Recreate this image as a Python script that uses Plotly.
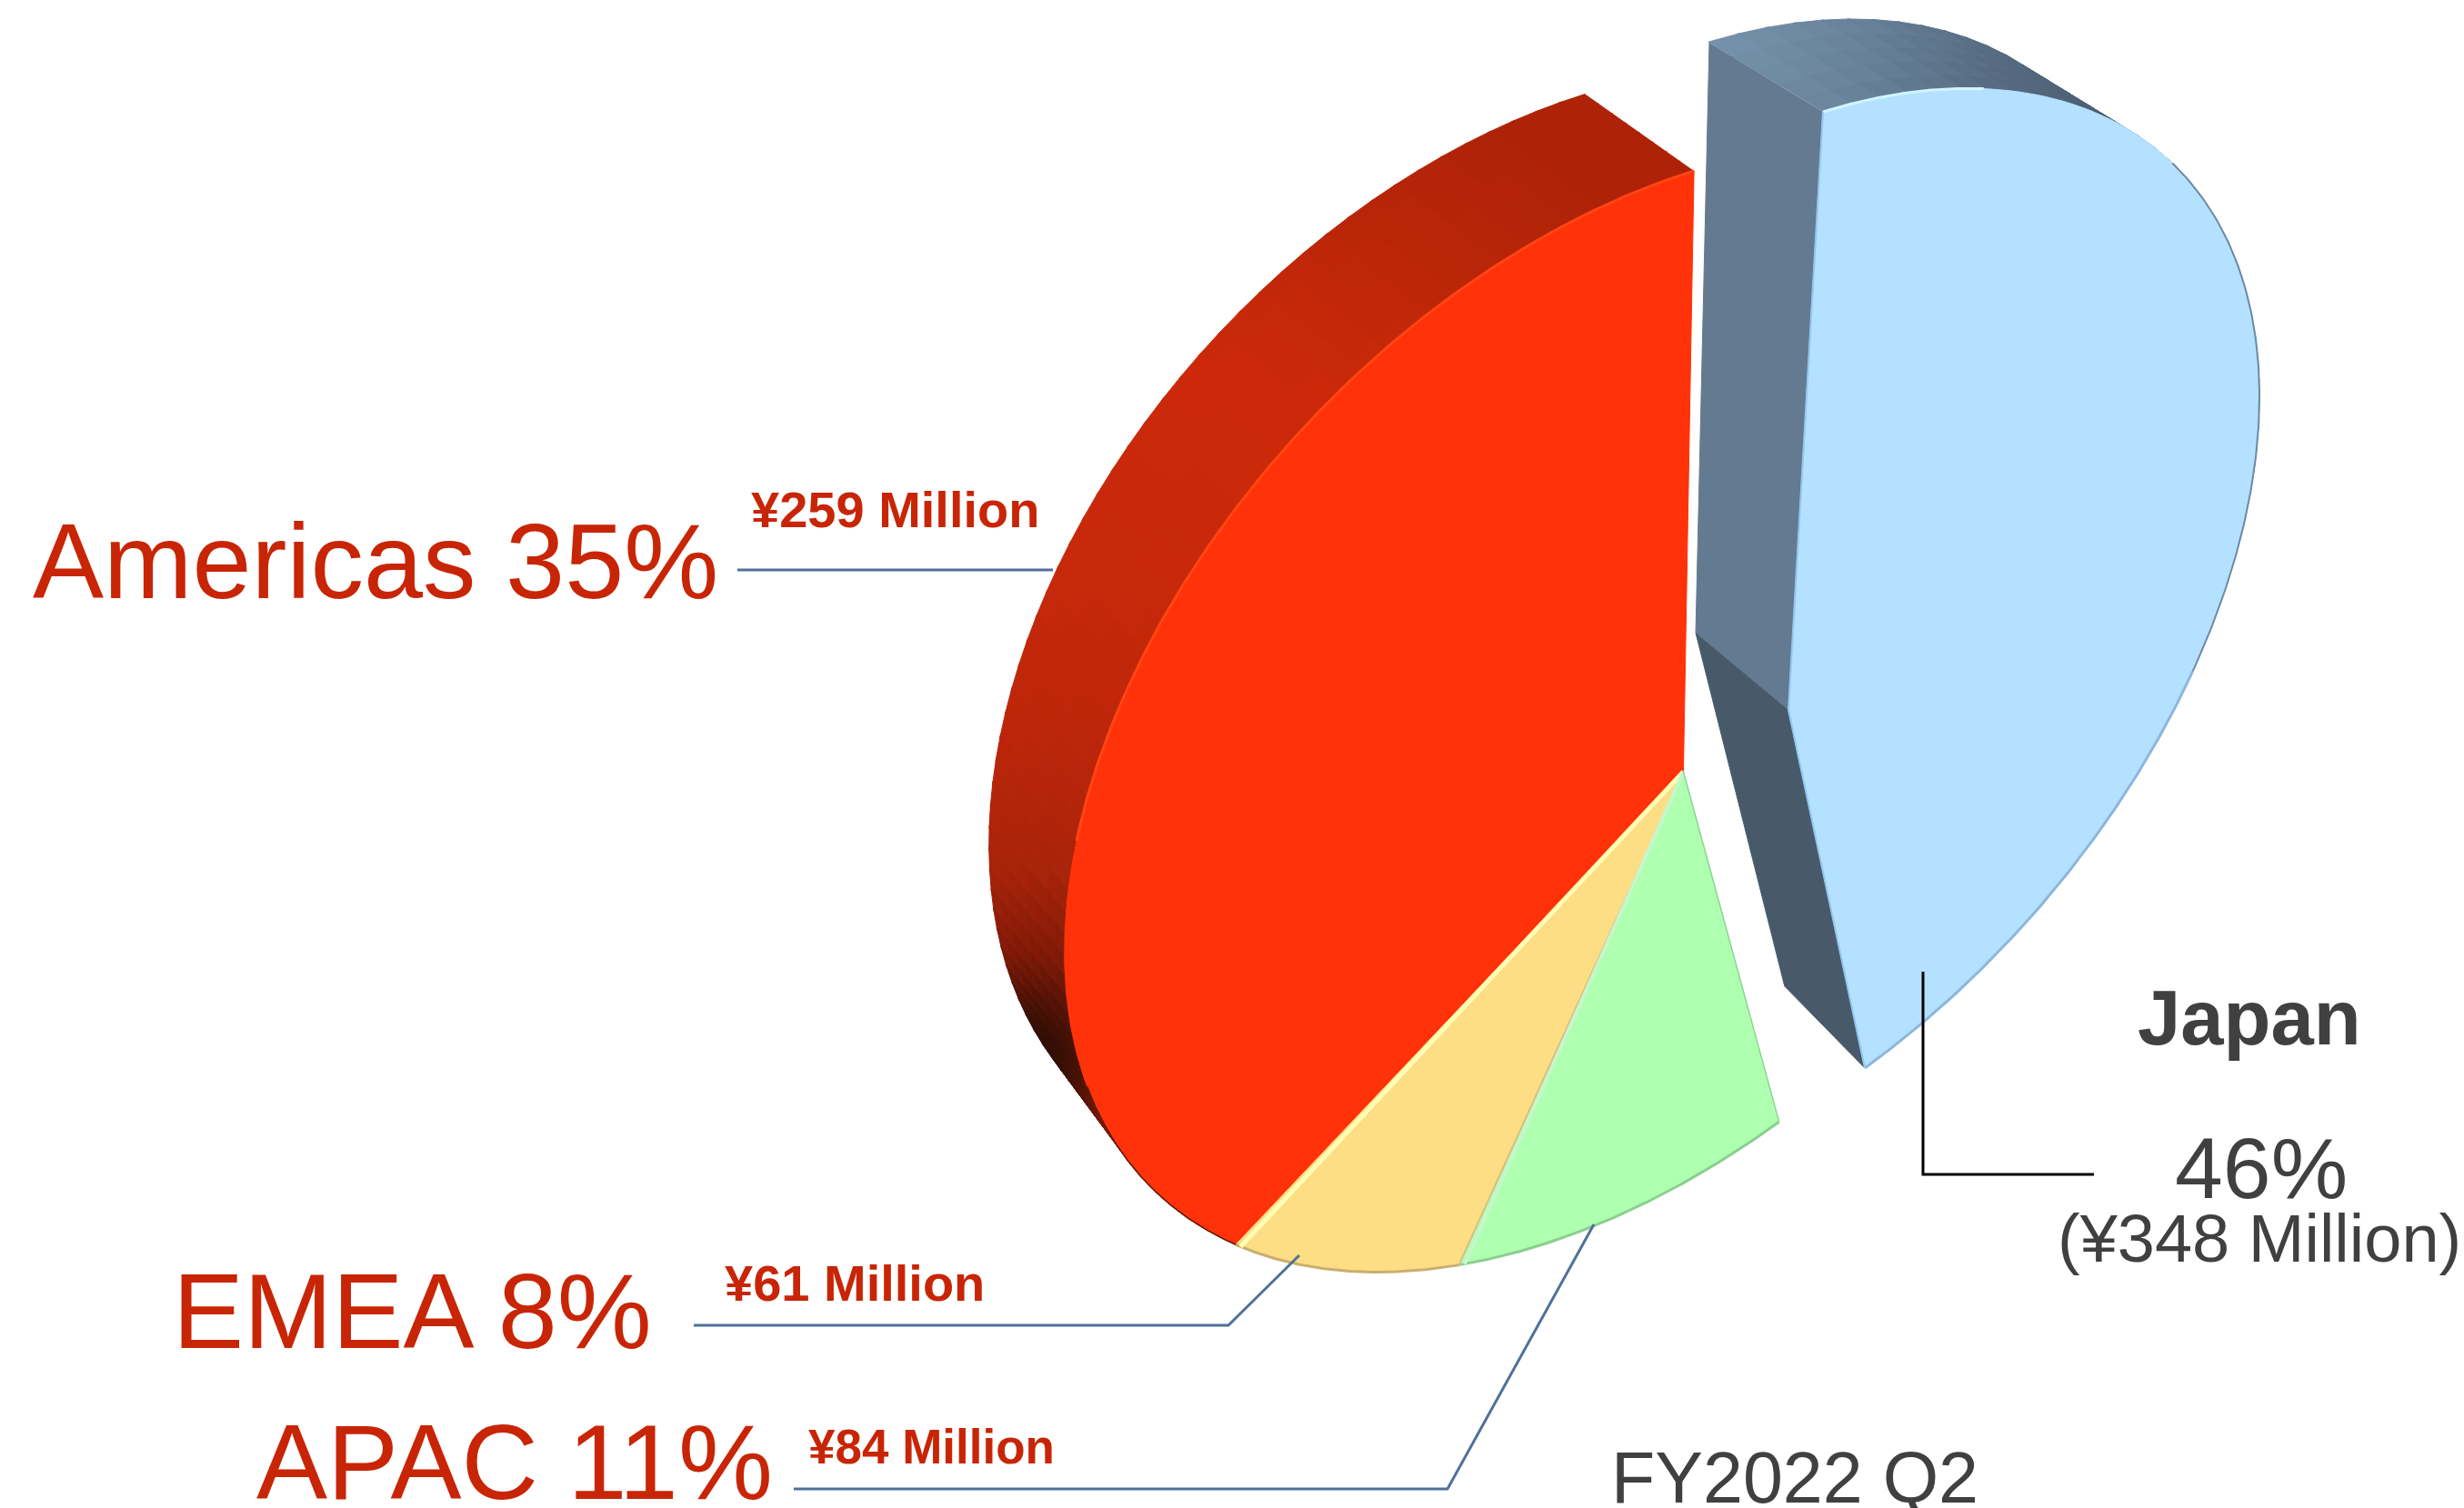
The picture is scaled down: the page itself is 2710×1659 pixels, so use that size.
import numpy as np
import plotly.graph_objects as go

# ---- data ----
regions = ["Japan", "APAC", "EMEA", "Americas"]
yen_million = [348, 84, 61, 259]
percent_labels = ["46%", "11%", "8%", "35%"]
face_colors = ["#B4E1FF", "#AEFFB0", "#FDDE85", "#FF3209"]

W, H = 2710, 1659
RED = "#C82506"
GREY = "#404040"
total = sum(yen_million)
deg = [v / total * 360 for v in yen_million]
jp_end = deg[0]
am_end = -deg[3]
em_end = am_end - deg[2]
ap_end = em_end - deg[1]


def fit(src, dst):
    rows = []
    for (u, v), (x, y) in zip(src, dst):
        rows.append([u, v, 1, 0, 0, 0, -x * u, -x * v, -x])
        rows.append([0, 0, 0, u, v, 1, -y * u, -y * v, -y])
    return np.linalg.svd(np.array(rows, float))[2][-1].reshape(3, 3)


def unit(t):
    t = np.radians(t)
    return (np.sin(t), np.cos(t))


def project(M, t):
    t = np.atleast_1d(np.asarray(t, float))
    r = np.radians(t)
    p = M @ np.vstack([np.sin(r), np.cos(r), np.ones_like(r)])
    return p[0] / p[2], p[1] / p[2]


def center(M):
    return M[0, 2] / M[2, 2], M[1, 2] / M[2, 2]


def back_jp(x, y, k=1.0):
    dx = -125 + 0.035 * (np.asarray(y) - 123)
    dy = -76 - 0.0133 * (np.asarray(y) - 123)
    return x + k * dx, y + k * dy


def back_am(x, y, k=1.0):
    dx = -119 + 0.043 * (np.asarray(y) - 188)
    dy = -84 - 0.0133 * (np.asarray(y) - 188)
    return x + k * dx, y + k * dy


main = fit([(0, 0), unit(0), unit(am_end), unit(em_end), unit(ap_end)],
           [(1850, 849), (1864, 188), (1359, 1369), (1605, 1392), (1957, 1234)])

best = None
tt = np.linspace(0, jp_end, 400)
for a in np.arange(45, 110, 1.0):
    M = fit([(0, 0), unit(0), unit(jp_end), unit(a)],
            [(1967, 781), (2005, 123), (2051, 1175), (2485, 432)])
    xs, ys = project(M, tt)
    e = sum(np.min(np.hypot(xs - px, ys - py)) for px, py in [(2169, 98), (2419, 691), (2300, 930)])
    if best is None or e < best[0]:
        best = (e, M)
japan = best[1]

fig = go.Figure()


def poly(x, y, color, name=None):
    fig.add_trace(go.Scatter(x=list(x), y=list(y), mode="lines", fill="toself", fillcolor=color,
                             line=dict(color=color, width=1), hoverinfo="skip", name=name))


def line(x, y, color, width):
    fig.add_trace(go.Scatter(x=list(x), y=list(y), mode="lines", line=dict(color=color, width=width),
                             hoverinfo="skip"))


def hexrgb(h):
    return np.array([int(h[i:i + 2], 16) for i in (1, 3, 5)], float)


def ramp(d, stops):
    ds = [s[0] for s in stops]
    cs = np.array([hexrgb(s[1]) for s in stops])
    return "rgb(%d,%d,%d)" % tuple(np.interp(d, ds, cs[:, i]) for i in range(3))


def wall(M, backfn, t0, t1, n, layers, colorfn):
    th = np.linspace(t0, t1, n + 1)
    for i in range(n):
        for j in range(layers):
            a, b = th[i], th[i + 1] + (0.3 if t1 > t0 else -0.3)
            xa, ya = project(M, [a, b])
            k0, k1 = j / layers, (j + 1.05) / layers
            x0, y0 = backfn(xa, ya, k0)
            x1, y1 = backfn(xa, ya, k1)
            qx = [x0[0], x0[1], x1[1], x1[0]]
            qy = [y0[0], y0[1], y1[1], y1[0]]
            poly(qx, qy, colorfn(np.mean(qx), np.mean(qy)))


am_stops = [(0, "#200803"), (50, "#3A1006"), (120, "#801A08"), (210, "#A8240A"),
            (350, "#BC260A"), (550, "#C8290A"), (800, "#CC2A0A"), (1150, "#AE2308")]
wall(main, back_am, 0, am_end, 60, 8, lambda x, y: ramp(np.hypot(x - 1120, y - 1170), am_stops))

# Japan walls
jc = center(japan)
j0 = project(japan, [0])
j1 = project(japan, [jp_end])
jx = np.array([j0[0][0], jc[0], j1[0][0]])
jy = np.array([j0[1][0], jc[1], j1[1][0]])
bx, by = back_jp(jx, jy)
jp_stops = [(1880, "#7894AE"), (2050, "#68829A"), (2200, "#566B80"), (2340, "#4A5D70")]
wall(japan, back_jp, 0, 110, 40, 5, lambda x, y: ramp(x, jp_stops))
poly([jx[0], jx[1], bx[1], bx[0]], [jy[0], jy[1], by[1], by[0]], "#647A90")
poly([jx[1], jx[2], bx[2], bx[1]], [jy[1], jy[2], by[2], by[1]], "#485A6A")


def wedge(M, a, b, color, name):
    t = np.linspace(a, b, 160)
    x, y = project(M, t)
    c = center(M)
    poly([c[0], *x, c[0]], [c[1], *y, c[1]], color, name)


wedge(main, 0, am_end, face_colors[3], regions[3])
wedge(main, am_end, em_end, face_colors[2], regions[2])
wedge(main, em_end, ap_end, face_colors[1], regions[1])
wedge(japan, 0, jp_end, face_colors[0], regions[0])


def rim(M, a, b, color, width):
    x, y = project(M, np.linspace(a, b, 120))
    line(x, y, color, width)


def spoke(M, t, color, width):
    c = center(M)
    x, y = project(M, [t])
    line([c[0], x[0]], [c[1], y[0]], color, width)


# bevel highlights and edges
rim(main, am_end, em_end, "#C9AE6E", 3)
rim(main, em_end, ap_end, "#8BCF90", 3)
rim(main, 0, -70, "#FF4513", 3)
rim(main, -95, am_end, "#5A1A08", 1.5)
spoke(main, am_end - 0.7, "#FFFFB4", 5)
spoke(main, em_end, "#D9BE80", 2)
spoke(main, em_end - 0.7, "#C6F6CC", 4)
spoke(main, ap_end, "#8FD496", 1.5)
rim(japan, 0, 16, "#D2F6FF", 3)
rim(japan, 42, 110, "#6C8AA4", 2)
rim(japan, 110, jp_end, "#8DB6DC", 3)
spoke(japan, 0, "#93C6F0", 2)
spoke(japan, jp_end, "#93C6F0", 2)

# leader lines
BLUE = "#4F719B"
line([811, 1158], [627, 627], BLUE, 3)
line([763, 1351, 1429], [1458, 1458, 1381], BLUE, 3)
line([873, 1592, 1753], [1638, 1638, 1347], BLUE, 3)
line([2115, 2115, 2303], [1069, 1292, 1292], "#000000", 3)


def label(text, x, base, size, color=RED, bold=False):
    fig.add_annotation(x=x, y=base - 0.346 * size, xref="x", yref="y", xanchor="left", yanchor="middle",
                       text=("<b>%s</b>" % text) if bold else text, showarrow=False,
                       font=dict(family="Liberation Sans", size=size, color=color), borderpad=0)


label(f"{regions[3]} {percent_labels[3]}", 35, 658, 117)
label(f"¥{yen_million[3]} Million", 825, 580, 56, bold=True)
label(f"{regions[2]} {percent_labels[2]}", 189, 1483, 117)
label(f"¥{yen_million[2]} Million", 796, 1431, 56, bold=True)
label(f"{regions[1]} {percent_labels[1]}", 281, 1649, 117)
label(f"¥{yen_million[1]} Million", 888, 1610, 53, bold=True)
label(regions[0], 2350, 1149, 85, GREY, True)
label(percent_labels[0], 2391, 1318, 95, GREY)
label(f"(¥{yen_million[0]} Million)", 2262, 1388, 74, GREY)
label("FY2022 Q2", 1771, 1653, 79, GREY)

fig.update_layout(width=W, height=H, margin=dict(l=0, r=0, t=0, b=0), showlegend=False,
                  paper_bgcolor="white", plot_bgcolor="white",
                  xaxis=dict(range=[0, W], visible=False, fixedrange=True),
                  yaxis=dict(range=[H, 0], visible=False, fixedrange=True))
fig.write_html("out.html", post_script="document.body.style.margin='0';", config={"displayModeBar": False})
